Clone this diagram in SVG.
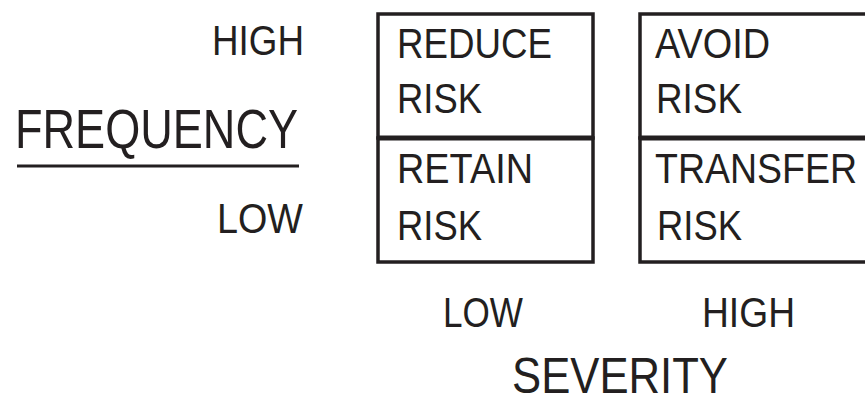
<svg xmlns="http://www.w3.org/2000/svg" width="865" height="405" viewBox="0 0 865 405">
<style>
  .cell { fill: #ffffff; stroke: #231f20; stroke-width: 3.5; }
  .div { stroke: #231f20; stroke-width: 5; }
  text { font-family: "Liberation Sans", Arial, sans-serif; fill: #231f20; }
  .box { font-size: 43px; }
  .lab { font-size: 42px; }
  .axis { font-size: 55px; }
</style>
<rect width="865" height="405" fill="#ffffff"/>
<g id="frequency-axis">
  <text class="lab" x="212" y="55" textLength="92" lengthAdjust="spacingAndGlyphs">HIGH</text>
  <text class="axis" x="15" y="148" textLength="283" lengthAdjust="spacingAndGlyphs">FREQUENCY</text>
  <line x1="17" y1="166" x2="299" y2="166" stroke="#231f20" stroke-width="3"/>
  <text class="lab" x="217" y="233" textLength="86" lengthAdjust="spacingAndGlyphs">LOW</text>
</g>
<g id="reduce-risk">
  <rect class="cell" x="378" y="14" width="215" height="124"/>
  <text class="box" x="397" y="58" textLength="155" lengthAdjust="spacingAndGlyphs">REDUCE</text>
  <text class="box" x="397" y="113" textLength="85" lengthAdjust="spacingAndGlyphs">RISK</text>
</g>
<g id="retain-risk">
  <rect class="cell" x="378" y="138" width="215" height="124"/>
  <text class="box" x="397" y="183" textLength="136" lengthAdjust="spacingAndGlyphs">RETAIN</text>
  <text class="box" x="397" y="240" textLength="85" lengthAdjust="spacingAndGlyphs">RISK</text>
</g>
<g id="avoid-risk">
  <rect class="cell" x="640" y="14" width="230" height="124"/>
  <text class="box" x="655" y="58" textLength="115" lengthAdjust="spacingAndGlyphs">AVOID</text>
  <text class="box" x="656" y="113" textLength="86" lengthAdjust="spacingAndGlyphs">RISK</text>
</g>
<g id="transfer-risk">
  <rect class="cell" x="640" y="138" width="230" height="124"/>
  <text class="box" x="655" y="183" textLength="202" lengthAdjust="spacingAndGlyphs">TRANSFER</text>
  <text class="box" x="657" y="240" textLength="85" lengthAdjust="spacingAndGlyphs">RISK</text>
</g>
<g id="connectors">
  <line class="div" x1="378" y1="138" x2="593" y2="138"/>
  <line class="div" x1="640" y1="138" x2="865" y2="138"/>
</g>
<g id="severity-axis">
  <text class="lab" x="443" y="327" textLength="80" lengthAdjust="spacingAndGlyphs">LOW</text>
  <text class="lab" x="702" y="327" textLength="93" lengthAdjust="spacingAndGlyphs">HIGH</text>
  <text style="font-size:50px" x="512" y="393" textLength="216" lengthAdjust="spacingAndGlyphs">SEVERITY</text>
</g>
</svg>
